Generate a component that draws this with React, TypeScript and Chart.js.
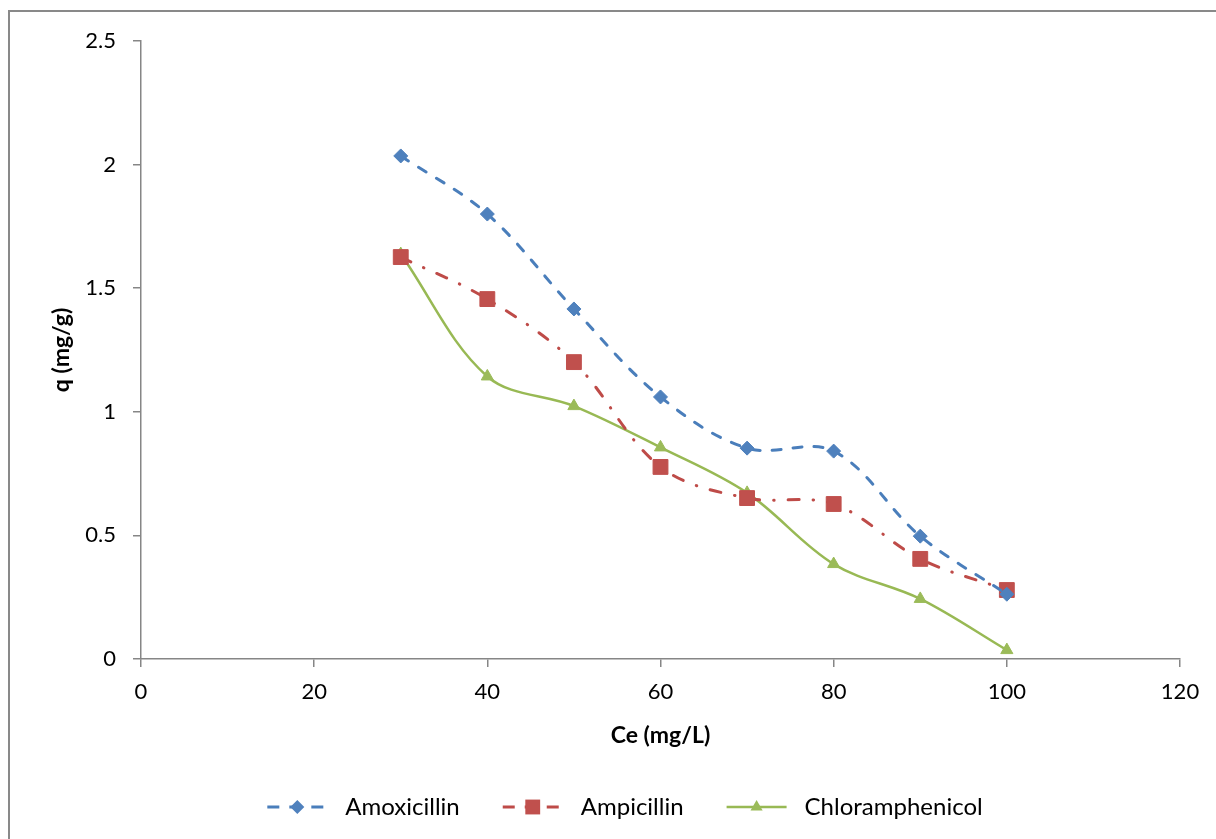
import React, { useEffect, useRef } from 'react';
import { Chart, registerables } from 'chart.js';

Chart.register(...registerables);

// ---- Data ----
const ceValues = [30, 40, 50, 60, 70, 80, 90, 100];
const amoxicillin = [2.035, 1.8, 1.416, 1.06, 0.853, 0.841, 0.497, 0.262];
const ampicillin = [1.626, 1.456, 1.201, 0.777, 0.651, 0.627, 0.405, 0.279];
const chloramphenicol = [1.638, 1.143, 1.023, 0.856, 0.672, 0.384, 0.243, 0.036];
const seriesNames = ['Amoxicillin', 'Ampicillin', 'Chloramphenicol'];
const xAxisTitle = 'Ce (mg/L)';
const yAxisTitle = 'q (mg/g)';

const FONT = 'Lato, "Open Sans", "DejaVu Sans", sans-serif';

function toPoints(ys: number[]) {
  return ys.map((y, i) => ({ x: ceValues[i], y }));
}

function drawMarker(ctx: CanvasRenderingContext2D, style: string, x: number, y: number, r: number) {
  ctx.beginPath();
  if (style === 'rectRot') {
    ctx.moveTo(x, y - r);
    ctx.lineTo(x + r, y);
    ctx.lineTo(x, y + r);
    ctx.lineTo(x - r, y);
  } else if (style === 'rect') {
    const s = r * Math.SQRT1_2;
    ctx.rect(x - s, y - s, 2 * s, 2 * s);
  } else {
    ctx.moveTo(x, y - r);
    ctx.lineTo(x + 0.866 * r, y + 0.5 * r);
    ctx.lineTo(x - 0.866 * r, y + 0.5 * r);
  }
  ctx.closePath();
  ctx.fill();
}

const framePlugin = {
  id: 'frame',
  beforeDraw(chart: any) {
    const ctx = chart.ctx;
    ctx.save();
    ctx.fillStyle = '#ffffff';
    ctx.fillRect(0, 0, chart.width, chart.height);
    ctx.strokeStyle = '#898989';
    ctx.lineWidth = 2;
    ctx.strokeRect(9, 11, chart.width + 100, chart.height + 100);
    ctx.restore();
  },
};

const legendPlugin = {
  id: 'excelLegend',
  afterDraw(chart: any) {
    const ctx: CanvasRenderingContext2D = chart.ctx;
    ctx.save();
    ctx.font = `24px ${FONT}`;
    ctx.textBaseline = 'middle';
    const sampleW = 60;
    const textGap = 18;
    const itemGap = 43;
    const ds = chart.data.datasets;
    let total = 0;
    ds.forEach((d: any, i: number) => {
      total += sampleW + textGap + ctx.measureText(d.label).width;
      if (i < ds.length - 1) total += itemGap;
    });
    const centerX = 625;
    const y = 807;
    let x = centerX - total / 2;
    ds.forEach((d: any) => {
      ctx.save();
      ctx.strokeStyle = d.borderColor;
      ctx.lineWidth = d.borderWidth;
      ctx.lineCap = 'butt';
      ctx.setLineDash(d.legendDash || []);
      ctx.beginPath();
      ctx.moveTo(x, y);
      ctx.lineTo(x + sampleW, y);
      ctx.stroke();
      ctx.setLineDash([]);
      ctx.fillStyle = d.pointBackgroundColor;
      drawMarker(ctx, d.pointStyle, x + sampleW / 2, y, d.pointRadius);
      ctx.restore();
      ctx.fillStyle = '#000000';
      const tx = x + sampleW + textGap;
      ctx.fillText(d.label, tx, y);
      x = tx + ctx.measureText(d.label).width + itemGap;
    });
    ctx.restore();
  },
};

export default function App() {
  const canvasRef = useRef<HTMLCanvasElement | null>(null);

  useEffect(() => {
    if (!canvasRef.current) return;
    const chart = new Chart(canvasRef.current, {
      type: 'line',
      data: {
        datasets: [
          {
            label: seriesNames[0],
            data: toPoints(amoxicillin),
            borderColor: '#4a7ebb',
            backgroundColor: '#4f81bd',
            pointBackgroundColor: '#4f81bd',
            pointBorderColor: '#4f81bd',
            borderWidth: 3,
            borderDash: [9, 12],
            legendDash: [12, 10],
            borderCapStyle: 'round',
            pointStyle: 'rectRot',
            pointRadius: 7,
            pointBorderWidth: 1,
            tension: 0.35,
            fill: false,
          } as any,
          {
            label: seriesNames[1],
            data: toPoints(ampicillin),
            borderColor: '#be4b48',
            backgroundColor: '#c0504d',
            pointBackgroundColor: '#c0504d',
            pointBorderColor: '#c0504d',
            borderWidth: 3,
            borderDash: [11, 14, 0.5, 14],
            legendDash: [12, 10],
            borderCapStyle: 'round',
            pointStyle: 'rect',
            pointRadius: 10.5,
            pointBorderWidth: 1,
            tension: 0.35,
            fill: false,
          } as any,
          {
            label: seriesNames[2],
            data: toPoints(chloramphenicol),
            borderColor: '#98b954',
            backgroundColor: '#9bbb59',
            pointBackgroundColor: '#9bbb59',
            pointBorderColor: '#9bbb59',
            borderWidth: 2.5,
            borderDash: [],
            legendDash: [],
            pointStyle: 'triangle',
            pointRadius: 7,
            pointBorderWidth: 1,
            tension: 0.35,
            fill: false,
          } as any,
        ],
      },
      options: {
        animation: false,
        responsive: false,
        maintainAspectRatio: false,
        layout: { padding: { left: 0, right: 36, top: 41, bottom: 0 } },
        plugins: {
          legend: { display: false },
          tooltip: { enabled: false },
        },
        scales: {
          x: {
            type: 'linear',
            min: 0,
            max: 120,
            ticks: {
              stepSize: 20,
              color: '#000000',
              font: { family: FONT, size: 22 },
              padding: 12,
              maxRotation: 0,
              callback: (v: any) => String(v),
            },
            grid: {
              drawOnChartArea: false,
              drawTicks: true,
              tickLength: 8,
              color: '#868686',
              lineWidth: 1.5,
            },
            border: { color: '#868686', width: 1.5 },
            title: {
              display: true,
              text: xAxisTitle,
              color: '#000000',
              font: { family: FONT, size: 23, weight: 'bold' },
              padding: { top: 0, bottom: 90 },
            },
            afterFit(scale: any) {
              scale.height = 180;
            },
          },
          y: {
            type: 'linear',
            min: 0,
            max: 2.5,
            ticks: {
              stepSize: 0.5,
              color: '#000000',
              font: { family: FONT, size: 22 },
              padding: 17,
              callback: (v: any) => String(v),
            },
            grid: {
              drawOnChartArea: false,
              drawTicks: true,
              tickLength: 8,
              color: '#868686',
              lineWidth: 1.5,
            },
            border: { color: '#868686', width: 1.5 },
            title: {
              display: true,
              text: yAxisTitle,
              color: '#000000',
              font: { family: FONT, size: 23, weight: 'bold' },
              padding: { top: 48, bottom: 0 },
            },
            afterFit(scale: any) {
              scale.width = 141;
            },
          },
        },
      },
      plugins: [framePlugin, legendPlugin],
    });
    return () => chart.destroy();
  }, []);

  return (
    <div style={{ position: 'fixed', left: 0, top: 0, width: 1216, height: 839, background: '#fff' }}>
      <canvas ref={canvasRef} width={1216} height={839} style={{ display: 'block' }} />
    </div>
  );
}
